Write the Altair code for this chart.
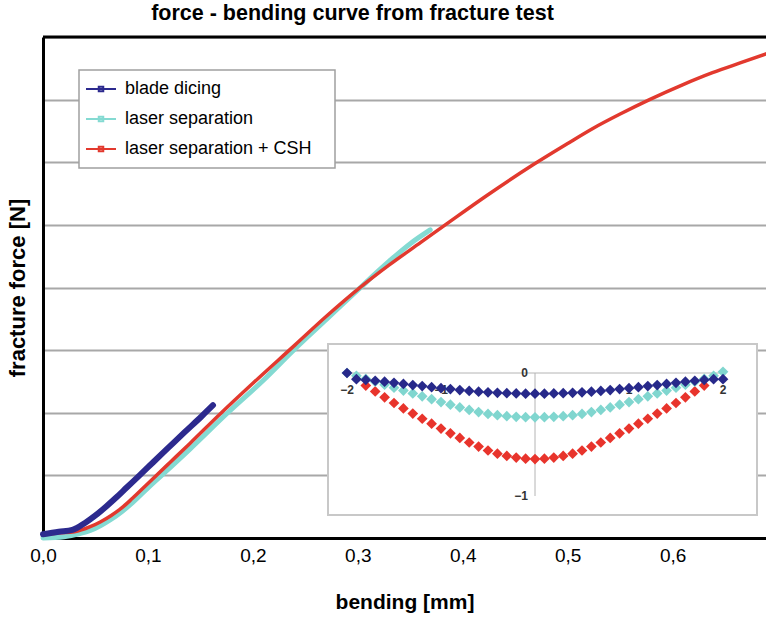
import altair as alt
import pandas as pd

# ---------------------------------------------------------------------------
# Force - bending curves (bending in mm, force in grid units, no scale labels)
# ---------------------------------------------------------------------------
blade_x = [0.000, 0.015, 0.028, 0.040, 0.050, 0.060, 0.070, 0.080, 0.092,
           0.105, 0.120, 0.135, 0.151, 0.162]
blade_y = [0.06, 0.10, 0.13, 0.24, 0.36, 0.50, 0.65, 0.81, 1.00,
           1.21, 1.45, 1.69, 1.94, 2.12]

laser_x = [0.000, 0.020, 0.035, 0.045, 0.055, 0.065, 0.075, 0.085, 0.100,
           0.113, 0.140, 0.176, 0.210, 0.240, 0.270, 0.300, 0.330, 0.350, 0.369]
laser_y = [0.00, 0.02, 0.07, 0.12, 0.20, 0.30, 0.42, 0.56, 0.80,
           1.00, 1.42, 2.00, 2.52, 3.02, 3.49, 3.96, 4.42, 4.70, 4.92]

csh_x = [0.000, 0.015, 0.030, 0.045, 0.055, 0.065, 0.075, 0.085, 0.100,
         0.120, 0.140, 0.170, 0.200, 0.240, 0.270, 0.300, 0.330, 0.360,
         0.385, 0.423, 0.467, 0.500, 0.524, 0.550, 0.578, 0.610, 0.638,
         0.665, 0.689]
csh_y = [0.05, 0.08, 0.10, 0.18, 0.26, 0.36, 0.48, 0.63, 0.87,
         1.19, 1.51, 2.00, 2.47, 3.08, 3.54, 3.97, 4.36, 4.72,
         5.02, 5.47, 5.96, 6.30, 6.54, 6.77, 7.00, 7.24, 7.43,
         7.59, 7.73]

series_names = ["blade dicing", "laser separation", "laser separation + CSH"]
x_ticks = [0.0, 0.1, 0.2, 0.3, 0.4, 0.5, 0.6]
y_grid = [0, 1, 2, 3, 4, 5, 6, 7, 8]

# ---------------------------------------------------------------------------
# Inset: deflection profiles across the die
# ---------------------------------------------------------------------------
ins_pos = [i / 10 for i in range(-20, 21)]        # sample positions -2 ... 2
ins_pos_csh = [i / 10 for i in range(-18, 19)]    # sample positions -1.8 ... 1.8

ins_blade = [0.000, -0.050, -0.056, -0.063, -0.071, -0.080, -0.089, -0.098,
             -0.106, -0.115, -0.123, -0.131, -0.139, -0.146, -0.152, -0.157,
             -0.161, -0.164, -0.166, -0.168, -0.168, -0.168, -0.166, -0.164,
             -0.161, -0.157, -0.152, -0.146, -0.139, -0.131, -0.123, -0.115,
             -0.106, -0.098, -0.089, -0.080, -0.071, -0.063, -0.056, -0.050,
             -0.050]
ins_laser = [0.000, -0.023, -0.047, -0.071, -0.095, -0.119, -0.143, -0.166,
             -0.190, -0.213, -0.236, -0.258, -0.280, -0.300, -0.318, -0.333,
             -0.343, -0.351, -0.356, -0.359, -0.360, -0.359, -0.356, -0.351,
             -0.343, -0.333, -0.318, -0.300, -0.280, -0.258, -0.236, -0.213,
             -0.190, -0.166, -0.143, -0.119, -0.095, -0.071, -0.047, -0.023,
             0.010]
ins_csh = [-0.102, -0.150, -0.198, -0.244, -0.288, -0.330, -0.372, -0.412,
           -0.452, -0.490, -0.528, -0.565, -0.598, -0.630, -0.656, -0.674,
           -0.688, -0.697, -0.700, -0.697, -0.688, -0.674, -0.656, -0.630,
           -0.598, -0.565, -0.528, -0.490, -0.452, -0.412, -0.372, -0.330,
           -0.288, -0.244, -0.198, -0.150, -0.102]

ins_x_ticks = [-2, -1, 1, 2]
ins_x_labels = ["\u22122", "\u22121", "1", "2"]
ins_y_ticks = [0, -1]
ins_y_labels = ["0", "\u22121"]

# ---------------------------------------------------------------------------
# Styling
# ---------------------------------------------------------------------------
FONT = "Liberation Sans"
W, H = 723, 501
line_colors = ["#2c2a8e", "#84dad2", "#e2392e"]
line_widths = [6, 5, 3.5]
diamond_colors = ["#27298a", "#80d6cf", "#e8342c"]

curves = pd.concat([
    pd.DataFrame({"bending": blade_x, "force": blade_y, "series": series_names[0]}),
    pd.DataFrame({"bending": laser_x, "force": laser_y, "series": series_names[1]}),
    pd.DataFrame({"bending": csh_x, "force": csh_y, "series": series_names[2]}),
], ignore_index=True)

profiles = pd.concat([
    pd.DataFrame({"pos": ins_pos, "defl": ins_blade, "series": series_names[0]}),
    pd.DataFrame({"pos": ins_pos, "defl": ins_laser, "series": series_names[1]}),
    pd.DataFrame({"pos": ins_pos_csh, "defl": ins_csh, "series": series_names[2]}),
], ignore_index=True)

legend = alt.Legend(
    title=None, orient="none", legendX=42, legendY=36,
    symbolType="M-1,0H1M-0.15,-0.15H0.15V0.15H-0.15Z",
    symbolSize=900, symbolStrokeWidth=2, symbolFillColor="transparent",
    labelFont=FONT, labelFontSize=18, labelColor="black", labelOffset=8,
    labelLimit=400,
    strokeColor="transparent", fillColor="transparent", padding=0, rowPadding=5,
)

color = alt.Color("series:N", scale=alt.Scale(domain=series_names, range=line_colors),
                  legend=legend)

x_main = alt.X(
    "bending:Q", title="bending [mm]",
    scale=alt.Scale(domain=[0, 0.689], nice=False, zero=False),
    axis=alt.Axis(values=x_ticks, ticks=False, grid=False,
                  labelExpr="replace(format(datum.value, '.1f'), '.', ',')",
                  labelFont=FONT, labelFontSize=19, labelColor="black",
                  labelPadding=8, labelFlush=False,
                  titleFont=FONT, titleFontSize=21, titleFontWeight="bold",
                  titleColor="black", titlePadding=26,
                  domainColor="black", domainWidth=3),
)
y_main = alt.Y(
    "force:Q", title="fracture force [N]",
    scale=alt.Scale(domain=[0, 8], nice=False),
    axis=alt.Axis(values=y_grid, labels=False, ticks=False, grid=True,
                  gridColor="#a8a8a8", gridWidth=2,
                  titleFont=FONT, titleFontSize=22, titleFontWeight="bold",
                  titleColor="black", titlePadding=14,
                  domainColor="black", domainWidth=3),
)

base = alt.Chart(curves)
line_layers = []
for i in [1, 2, 0]:
    line_layers.append(
        base.transform_filter(alt.datum.series == series_names[i])
        .mark_line(strokeWidth=line_widths[i], strokeJoin="round", strokeCap="round",
                   interpolate="monotone")
        .encode(x=x_main, y=y_main, color=color)
    )

top_edge = alt.Chart(pd.DataFrame({"edge": [0]})).mark_rule(
    color="black", strokeWidth=3
).encode(x=alt.value(0), x2=alt.value(W), y=alt.value(0))

# frame behind the legend entries
legend_box = alt.Chart(pd.DataFrame({"k": [0]})).mark_rect(
    fill="white", stroke="#a0a0a0", strokeWidth=1.5
).encode(x=alt.value(36), x2=alt.value(292), y=alt.value(33), y2=alt.value(131))

main = alt.layer(*line_layers, top_edge, legend_box)

# --- inset --------------------------------------------------------------
ix = alt.X("pos:Q", scale=alt.Scale(domain=[-2, 2], range=[304, 680], nice=False, zero=False),
           axis=None)
ix2 = alt.X2("pos2:Q")
iy = alt.Y("defl:Q", scale=alt.Scale(domain=[-1, 0], range=[459, 336], nice=False, zero=False),
           axis=None)
iy2 = alt.Y2("defl2:Q")

inset_box = alt.Chart(pd.DataFrame({"k": [0]})).mark_rect(
    fill="white", stroke="#c8c8c8", strokeWidth=2
).encode(x=alt.value(285), x2=alt.value(714), y=alt.value(307), y2=alt.value(478))

h_axis = alt.Chart(pd.DataFrame({"pos": [min(ins_x_ticks)], "pos2": [max(ins_x_ticks)],
                                 "defl": [0]})).mark_rule(
    color="#b4b4b4", strokeWidth=1
).encode(x=ix, x2=ix2, y=iy)

v_axis = alt.Chart(pd.DataFrame({"pos": [0], "defl": [max(ins_y_ticks)],
                                 "defl2": [min(ins_y_ticks)]})).mark_rule(
    color="#b4b4b4", strokeWidth=1
).encode(x=ix, y=iy, y2=iy2)

x_tick_text = alt.Chart(pd.DataFrame({"pos": ins_x_ticks, "defl": [0] * len(ins_x_ticks),
                                      "lab": ins_x_labels})).mark_text(
    font=FONT, fontSize=12, color="#333333", dy=17, fontWeight="bold"
).encode(x=ix, y=iy, text="lab:N")

y_tick_text = alt.Chart(pd.DataFrame({"pos": [0] * len(ins_y_ticks), "defl": ins_y_ticks,
                                      "lab": ins_y_labels})).mark_text(
    font=FONT, fontSize=12, color="#333333", align="right", dx=-7, fontWeight="bold"
).encode(x=ix, y=iy, text="lab:N")

icolor = alt.Color("series:N", scale=alt.Scale(domain=series_names, range=diamond_colors),
                   legend=None)
ibase = alt.Chart(profiles)
diamonds = [
    ibase.transform_filter(alt.datum.series == series_names[i])
    .mark_point(shape="diamond", filled=True, size=115, opacity=1)
    .encode(x=ix, y=iy, color=icolor)
    for i in [2, 1, 0]
]

inset = alt.layer(inset_box, h_axis, v_axis, x_tick_text, y_tick_text, *diamonds)

chart = (
    alt.layer(main, inset)
    .resolve_scale(x="independent", y="independent", color="independent")
    .properties(
        width=W, height=H,
        title=alt.TitleParams(
            text="force - bending curve from fracture test",
            font=FONT, fontSize=21.5, fontWeight="bold", color="black",
            anchor="middle", frame="group", dx=-52, offset=-6,
            baseline="alphabetic",
        ),
        autosize=alt.AutoSizeParams(type="none"),
        padding={"left": 43, "top": 37, "right": 0, "bottom": 79},
        background="white",
    )
    .configure_view(stroke="transparent")
    .configure(font=FONT)
)

chart.save("out.html", embed_options={"renderer": "svg", "actions": False})
